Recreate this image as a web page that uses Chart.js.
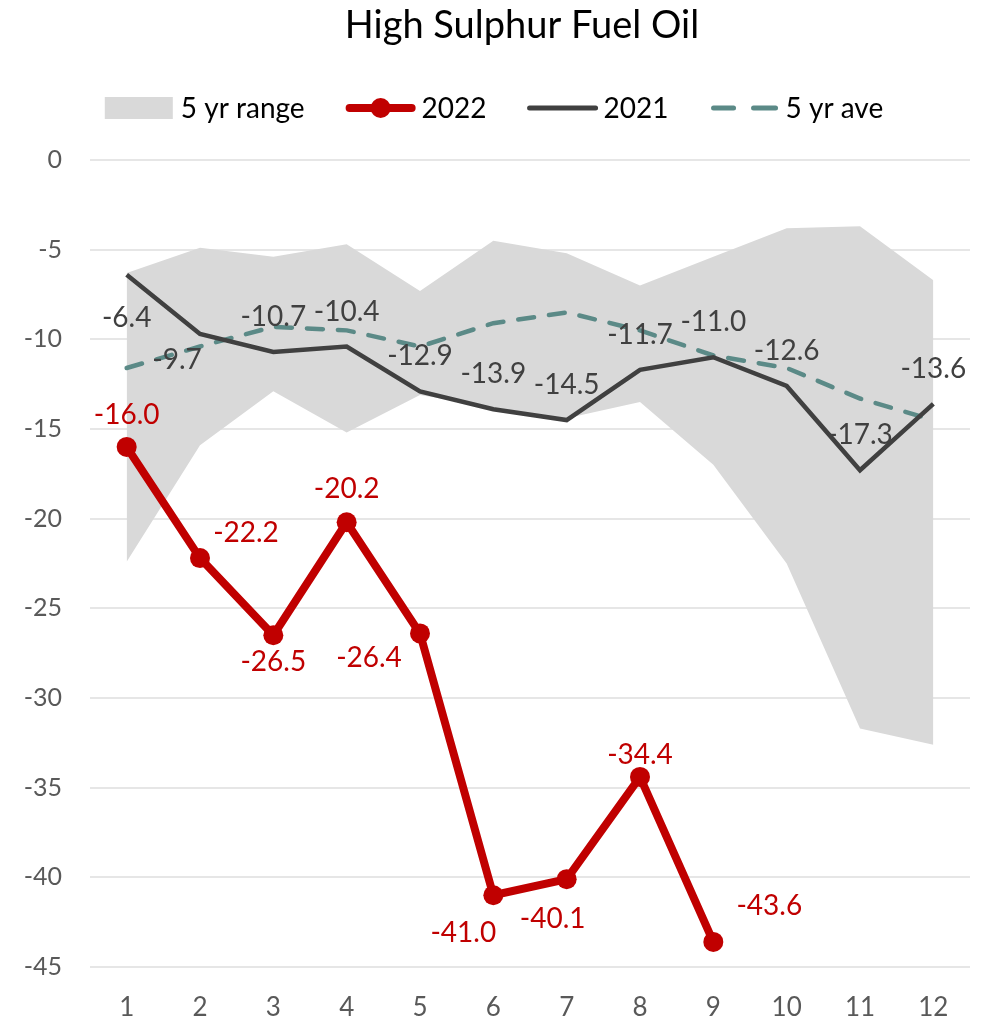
<!DOCTYPE html>
<html>
<head>
<meta charset="utf-8">
<title>High Sulphur Fuel Oil</title>
<script src="https://cdn.jsdelivr.net/npm/chart.js@4.4.1/dist/chart.umd.min.js"></script>
<style>
  html, body { margin: 0; padding: 0; background: #fff; }
  #wrap { width: 986px; height: 1022px; position: relative; }
</style>
</head>
<body>
<div id="wrap"><canvas id="hsfoChart"></canvas></div>
<script>
// chart data
const months = ["1", "2", "3", "4", "5", "6", "7", "8", "9", "10", "11", "12"];
const yTicks = [0, -5, -10, -15, -20, -25, -30, -35, -40, -45];
const range5yHigh = [-6.3, -4.9, -5.4, -4.7, -7.3, -4.5, -5.2, -7.0, -5.4, -3.8, -3.7, -6.7];
const range5yLow = [-22.4, -15.9, -12.9, -15.2, -13.1, -13.8, -14.4, -13.5, -17.0, -22.5, -31.7, -32.6];
const data2022 = [-16.0, -22.2, -26.5, -20.2, -26.4, -41.0, -40.1, -34.4, -43.6, null, null, null];
const data2021 = [-6.4, -9.7, -10.7, -10.4, -12.9, -13.9, -14.5, -11.7, -11.0, -12.6, -17.3, -13.6];
const ave5y = [-11.6, -10.4, -9.3, -9.5, -10.4, -9.1, -8.5, -9.5, -10.9, -11.6, -13.3, -14.5];

const FONT = "Lato, 'Open Sans', sans-serif";
const RED = "#c00000";
const DARK = "#404040";
const TEAL = "#5b8a87";
const BAND = "#d9d9d9";

// label offsets (px) from each point, like the excel label placement
const offs2022 = [[0, -32], [46, -25], [0, 27], [0, -33], [-51, 25], [-30, 38], [-14, 40], [0, -22], [56, -36]];
const offs2021 = [[0, 43], [-23, 26], [0, -35], [0, -35], [0, -35], [0, -35], [0, -35], [0, -35], [0, -35], [0, -35], [0, -35], [0, -35]];

const decor = {
    id: "decor",
    afterDatasetsDraw(chart) {
        const c = chart.ctx;
        c.save();
        c.font = "28px " + FONT;
        c.textAlign = "center";
        c.textBaseline = "middle";
        const draw = (dsIndex, offs, color) => {
            const meta = chart.getDatasetMeta(dsIndex);
            const vals = chart.data.datasets[dsIndex].data;
            c.fillStyle = color;
            meta.data.forEach((pt, i) => {
                if (vals[i] === null || !offs[i]) return;
                c.fillText(vals[i].toFixed(1), pt.x + offs[i][0], pt.y + offs[i][1]);
            });
        };
        draw(1, offs2021, DARK);
        draw(0, offs2022, RED);
        c.restore();
    },
    afterDraw(chart) {
        const c = chart.ctx;
        c.save();
        // title
        c.fillStyle = "#000";
        c.font = "38px " + FONT;
        c.textAlign = "center";
        c.textBaseline = "middle";
        c.fillText("High Sulphur Fuel Oil", 522, 26);

        // legend
        const ds = chart.data.datasets;
        const items = [
            { label: ds[3].label, kind: "box" },
            { label: ds[0].label, kind: "marker" },
            { label: ds[1].label, kind: "line" },
            { label: ds[2].label, kind: "dash" },
        ];
        c.font = "28px " + FONT;
        const symW = 70, gap = 6, space = 41;
        let total = 0;
        items.forEach((it) => {
            it.w = symW + gap + c.measureText(it.label).width;
            total += it.w;
        });
        total += space * (items.length - 1);
        let x = 494 - total / 2;
        const y = 108;
        items.forEach((it) => {
            if (it.kind === "box") {
                c.fillStyle = BAND;
                c.fillRect(x, y - 11, symW - 2, 22);
            } else if (it.kind === "marker") {
                c.strokeStyle = RED;
                c.lineWidth = 8;
                c.lineCap = "round";
                c.beginPath(); c.moveTo(x + 4, y); c.lineTo(x + symW - 4, y); c.stroke();
                c.fillStyle = RED;
                c.beginPath(); c.arc(x + symW / 2, y, 10, 0, Math.PI * 2); c.fill();
            } else if (it.kind === "line") {
                c.strokeStyle = DARK;
                c.lineWidth = 5;
                c.lineCap = "round";
                c.beginPath(); c.moveTo(x + 2, y); c.lineTo(x + symW - 2, y); c.stroke();
            } else {
                c.strokeStyle = TEAL;
                c.lineWidth = 5;
                c.lineCap = "round";
                c.beginPath(); c.moveTo(x + 4, y); c.lineTo(x + 24, y); c.stroke();
                c.beginPath(); c.moveTo(x + 44, y); c.lineTo(x + 66, y); c.stroke();
            }
            c.fillStyle = "#000";
            c.textAlign = "left";
            c.fillText(it.label, x + symW + gap, y + 1);
            x += it.w + space;
        });
        c.restore();
    },
};

const ctx = document.getElementById("hsfoChart").getContext("2d");
const hsfoChart = new Chart(ctx, {
    type: "line",
    data: {
        labels: months,
        datasets: [
            {
                label: "2022",
                data: data2022,
                borderColor: RED,
                backgroundColor: RED,
                borderWidth: 8,
                pointRadius: 10,
                pointBorderWidth: 0,
                pointBackgroundColor: RED,
                fill: false,
            },
            {
                label: "2021",
                data: data2021,
                borderColor: DARK,
                borderWidth: 4.5,
                pointRadius: 0,
                fill: false,
            },
            {
                label: "5 yr ave",
                data: ave5y,
                borderColor: TEAL,
                borderWidth: 4.5,
                borderDash: [16, 15],
                borderCapStyle: "round",
                pointRadius: 0,
                fill: false,
            },
            {
                label: "5 yr range",
                data: range5yHigh,
                borderWidth: 0,
                borderColor: "rgba(0,0,0,0)",
                backgroundColor: BAND,
                pointRadius: 0,
                fill: "+1",
            },
            {
                label: "5 yr range low",
                data: range5yLow,
                borderWidth: 0,
                borderColor: "rgba(0,0,0,0)",
                pointRadius: 0,
                fill: false,
            },
        ],
    },
    options: {
        responsive: true,
        maintainAspectRatio: false,
        animation: false,
        layout: { padding: { top: 160, right: 16, left: 0, bottom: 0 } },
        plugins: {
            legend: { display: false },
            title: { display: false },
            tooltip: { enabled: false },
        },
        scales: {
            x: {
                offset: true,
                grid: { display: false, drawTicks: false },
                border: { display: false },
                ticks: { color: "#595959", font: { family: FONT, size: 26 }, padding: 25, maxRotation: 0 },
                afterFit: (s) => { s.height = 55; },
            },
            y: {
                min: Math.min(...yTicks),
                max: Math.max(...yTicks),
                grid: { color: "#e6e6e6", lineWidth: 2, drawTicks: false },
                border: { display: false },
                afterBuildTicks: (s) => { s.ticks = yTicks.map((v) => ({ value: v })); },
                ticks: { color: "#595959", font: { family: FONT, size: 25 }, padding: 28 },
                afterFit: (s) => { s.width = 90; },
            },
        },
    },
    plugins: [decor],
});
</script>
</body>
</html>
